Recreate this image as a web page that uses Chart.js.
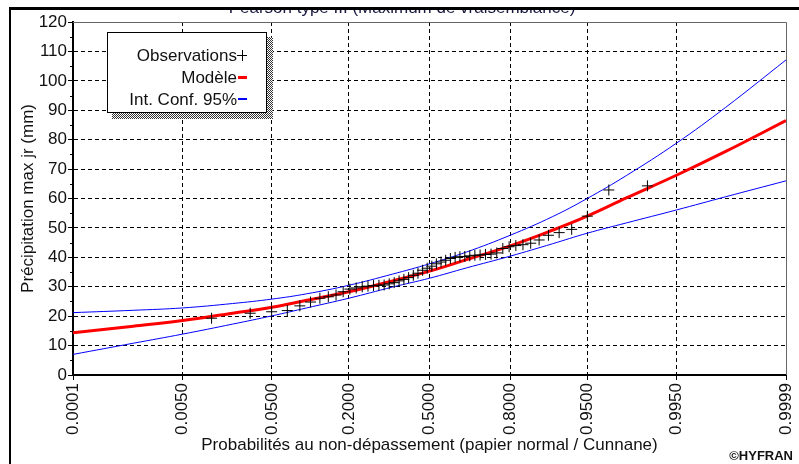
<!DOCTYPE html>
<html>
<head>
<meta charset="utf-8">
<script src="https://cdn.jsdelivr.net/npm/chart.js@4.4.1/dist/chart.umd.min.js"></script>
<style>
  html, body { margin: 0; padding: 0; background: #fff; }
  canvas { display: block; }
</style>
</head>
<body>
<canvas id="c" width="799" height="464"></canvas>
<script>
// Labelled non-exceedance probabilities on the normal-probability axis
const probTicks = [0.0001, 0.005, 0.05, 0.2, 0.5, 0.8, 0.95, 0.995, 0.9999];

// Fitted Pearson III quantiles and 95% confidence band
const curveProbs = [0.0001, 0.001, 0.005, 0.02, 0.05, 0.1, 0.2, 0.35, 0.5, 0.65, 0.8, 0.9, 0.95, 0.98, 0.995, 0.999, 0.9999];
const modelValues = [14.4, 16.6, 18.5, 21.0, 23.0, 25.4, 28.3, 32.0, 35.3, 39.2, 43.9, 49.2, 54.0, 60.2, 67.9, 76.0, 86.5];
const ciUpper     = [21.2, 22.0, 22.8, 24.3, 25.8, 27.6, 30.5, 34.3, 37.8, 41.8, 47.5, 53.8, 60.0, 67.8, 78.8, 91.0, 107.1];
const ciLower     = [7.0, 10.8, 13.9, 17.3, 20.1, 22.8, 26.1, 29.9, 32.9, 36.4, 40.4, 44.6, 48.2, 51.7, 56.1, 60.6, 66.0];

// Observed annual maxima with their Cunnane plotting positions
const obsProbs = [0.0115, 0.0307, 0.0498, 0.0690, 0.0881, 0.1073, 0.1264, 0.1456, 0.1648, 0.1839,
                  0.2031, 0.2222, 0.2414, 0.2605, 0.2797, 0.2989, 0.3180, 0.3372, 0.3563, 0.3755,
                  0.3946, 0.4138, 0.4330, 0.4521, 0.4713, 0.4904, 0.5096, 0.5287, 0.5479, 0.5670,
                  0.5862, 0.6054, 0.6245, 0.6437, 0.6628, 0.6820, 0.7011, 0.7203, 0.7395, 0.7586,
                  0.7778, 0.7969, 0.8161, 0.8352, 0.8544, 0.8736, 0.8927, 0.9119, 0.9310, 0.9502,
                  0.9693, 0.9885];
const obsValues = [19.3, 21.0, 21.5, 21.9, 23.5, 24.8, 26.1, 26.6, 27.2, 28.3,
                   29.2, 29.6, 30.0, 30.2, 30.4, 30.5, 30.6, 31.0, 31.4, 32.0,
                   32.5, 33.1, 33.9, 34.6, 35.6, 36.3, 37.0, 37.8, 38.4, 39.0,
                   39.6, 40.0, 40.2, 40.3, 40.5, 40.7, 40.8, 41.0, 41.1, 41.5,
                   43.0, 43.6, 44.0, 44.3, 44.8, 45.9, 47.5, 48.4, 49.5, 54.0,
                   62.9, 64.3];

const FONT = "'Liberation Sans', Arial, sans-serif";
const TEXT = '#111';

// Inverse of the standard normal CDF (Acklam)
function probit(p) {
  const a = [-3.969683028665376e+01, 2.209460984245205e+02, -2.759285104469687e+02, 1.383577518672690e+02, -3.066479806614716e+01, 2.506628277459239e+00];
  const b = [-5.447609879822406e+01, 1.615858368580409e+02, -1.556989798598866e+02, 6.680131188771972e+01, -1.328068155288572e+01];
  const c = [-7.784894002430293e-03, -3.223964580411365e-01, -2.400758277161838e+00, -2.549732539343734e+00, 4.374664141464968e+00, 2.938163982698783e+00];
  const d = [7.784695709041462e-03, 3.224671290700398e-01, 2.445134137142996e+00, 3.754408661907416e+00];
  const pl = 0.02425;
  let q, r;
  if (p < pl) {
    q = Math.sqrt(-2 * Math.log(p));
    return (((((c[0]*q+c[1])*q+c[2])*q+c[3])*q+c[4])*q+c[5]) / ((((d[0]*q+d[1])*q+d[2])*q+d[3])*q+1);
  }
  if (p > 1 - pl) {
    q = Math.sqrt(-2 * Math.log(1 - p));
    return -(((((c[0]*q+c[1])*q+c[2])*q+c[3])*q+c[4])*q+c[5]) / ((((d[0]*q+d[1])*q+d[2])*q+d[3])*q+1);
  }
  q = p - 0.5; r = q * q;
  return (((((a[0]*r+a[1])*r+a[2])*r+a[3])*r+a[4])*r+a[5])*q / (((((b[0]*r+b[1])*r+b[2])*r+b[3])*r+b[4])*r+1);
}

function normCdf(z) {
  const t = 1 / (1 + 0.3275911 * Math.abs(z) / Math.SQRT2);
  const y = 1 - (((((1.061405429*t - 1.453152027)*t) + 1.421413741)*t - 0.284496736)*t + 0.254829592)*t * Math.exp(-z*z/2);
  return z >= 0 ? 0.5 * (1 + y) : 0.5 * (1 - y);
}

// Normal probability paper: positions are linear in the standard normal quantile
class ProbitScale extends Chart.Scale {
  determineDataLimits() {
    this.min = this.options.min;
    this.max = this.options.max;
  }
  buildTicks() {
    return probTicks.map(v => ({ value: v }));
  }
  configure() {
    super.configure();
    this._zLo = probit(this.min);
    this._zHi = probit(this.max);
  }
  getLabelForValue(v) { return v.toFixed(4); }
  getPixelForValue(v) {
    return this.getPixelForDecimal((probit(v) - this._zLo) / (this._zHi - this._zLo));
  }
  getValueForPixel(px) {
    return normCdf(this._zLo + this.getDecimalForPixel(px) * (this._zHi - this._zLo));
  }
  getPixelForTick(i) { return this.getPixelForValue(this.ticks[i].value); }
}
ProbitScale.id = 'probit';
ProbitScale.defaults = {};
Chart.register(ProbitScale);

const pairs = (xs, ys) => xs.map((x, i) => ({ x: x, y: ys[i] }));

// Frame, title, legend box, minor ticks and credit line
let shadowPattern = null;
const decor = {
  id: 'decor',
  beforeDraw(chart) {
    const ctx = chart.ctx;
    ctx.save();
    ctx.fillStyle = '#fff';
    ctx.fillRect(0, 0, chart.width, chart.height);
    ctx.restore();
  },
  beforeDatasetsDraw(chart) {
    const ctx = chart.ctx, a = chart.chartArea;
    ctx.save();
    ctx.strokeStyle = '#666';
    ctx.lineWidth = 1;
    ctx.beginPath();
    ctx.moveTo(a.left, Math.round(a.top) + 0.5);
    ctx.lineTo(Math.round(a.right) + 0.5, Math.round(a.top) + 0.5);
    ctx.lineTo(Math.round(a.right) + 0.5, a.bottom);
    ctx.stroke();
    ctx.restore();
  },
  afterDraw(chart) {
    const ctx = chart.ctx, a = chart.chartArea, ys = chart.scales.y;
    ctx.save();

    // minor ticks on the value axis
    ctx.strokeStyle = '#000';
    ctx.lineWidth = 1;
    ctx.beginPath();
    for (let v = 5; v < 120; v += 10) {
      const py = Math.round(ys.getPixelForValue(v)) + 0.5;
      ctx.moveTo(a.left - 3, py);
      ctx.lineTo(a.left, py);
    }
    ctx.stroke();

    // outer frame
    ctx.fillStyle = '#000';
    ctx.fillRect(9, 7, chart.width - 9, 3);
    ctx.fillRect(9, 7, 2, chart.height - 7);

    // chart title, cut by the frame
    ctx.save();
    ctx.beginPath();
    ctx.rect(11, 10, chart.width - 11, 20);
    ctx.clip();
    ctx.font = '17px ' + FONT;
    ctx.fillStyle = '#1a1a40';
    ctx.textAlign = 'center';
    ctx.textBaseline = 'alphabetic';
    ctx.fillText('Pearson type III (Maximum de vraisemblance)', 402, 13);
    ctx.restore();

    // legend with hatched shadow
    if (!shadowPattern) {
      const pc = document.createElement('canvas');
      pc.width = 2; pc.height = 2;
      const pctx = pc.getContext('2d');
      pctx.fillStyle = '#fff'; pctx.fillRect(0, 0, 2, 2);
      pctx.fillStyle = '#333'; pctx.fillRect(0, 0, 1, 1); pctx.fillRect(1, 1, 1, 1);
      shadowPattern = ctx.createPattern(pc, 'repeat');
    }
    ctx.fillStyle = shadowPattern;
    ctx.fillRect(112, 37, 161, 82);
    ctx.fillStyle = '#fff';
    ctx.fillRect(107, 32, 160, 81);
    ctx.strokeStyle = '#000';
    ctx.lineWidth = 1;
    ctx.strokeRect(107.5, 32.5, 159, 80);

    ctx.font = '17px ' + FONT;
    ctx.fillStyle = TEXT;
    ctx.textAlign = 'right';
    ctx.textBaseline = 'alphabetic';
    ctx.fillText('Observations', 237, 61);
    ctx.fillText('Modèle', 237, 83);
    ctx.fillText('Int. Conf. 95%', 237, 104.5);
    ctx.strokeStyle = '#000';
    ctx.beginPath();
    ctx.moveTo(237, 55.5); ctx.lineTo(247, 55.5);
    ctx.moveTo(242.5, 50); ctx.lineTo(242.5, 61);
    ctx.stroke();
    ctx.fillStyle = '#ff0000';
    ctx.fillRect(238, 76, 9, 3);
    ctx.fillStyle = '#0000ff';
    ctx.fillRect(238, 98, 9, 2);

    // credit
    ctx.font = 'bold 13px ' + FONT;
    ctx.fillStyle = TEXT;
    ctx.textAlign = 'right';
    ctx.fillText('\u00A9HYFRAN', 793, 460);
    ctx.restore();
  }
};

const edgeTransparent = (lo, hi) => (ctx) =>
  (ctx.tick && (ctx.tick.value === lo || ctx.tick.value === hi)) ? 'rgba(0,0,0,0)' : '#000';

new Chart(document.getElementById('c'), {
  type: 'scatter',
  data: {
    datasets: [
      {
        label: 'Observations',
        data: pairs(obsProbs, obsValues),
        showLine: false,
        pointStyle: 'cross',
        pointRadius: 5.5,
        pointBorderColor: '#000',
        pointBorderWidth: 1,
        pointBackgroundColor: '#000'
      },
      {
        label: 'Modèle',
        data: pairs(curveProbs, modelValues),
        showLine: true,
        borderColor: '#ff0000',
        borderWidth: 3,
        pointRadius: 0,
        tension: 0.4
      },
      {
        label: 'Int. Conf. 95% sup',
        data: pairs(curveProbs, ciUpper),
        showLine: true,
        borderColor: '#0000ff',
        borderWidth: 1,
        pointRadius: 0,
        tension: 0.4
      },
      {
        label: 'Int. Conf. 95% inf',
        data: pairs(curveProbs, ciLower),
        showLine: true,
        borderColor: '#0000ff',
        borderWidth: 1,
        pointRadius: 0,
        tension: 0.4
      }
    ]
  },
  options: {
    responsive: false,
    animation: false,
    events: [],
    layout: { padding: { left: 0, top: 22, right: 13, bottom: 0 } },
    font: { family: FONT },
    plugins: { legend: { display: false }, tooltip: { enabled: false } },
    scales: {
      x: {
        type: 'probit',
        position: 'bottom',
        min: 0.0001,
        max: 0.9999,
        afterFit: (s) => { s.height = 89; s.paddingLeft = 0; s.paddingRight = 0; },
        ticks: {
          autoSkip: false,
          minRotation: 90,
          maxRotation: 90,
          padding: 3,
          color: TEXT,
          font: { family: FONT, size: 17 },
          callback: (v) => v.toFixed(4)
        },
        grid: {
          color: edgeTransparent(0.0001, 0.9999),
          lineWidth: 1,
          tickLength: 5,
          tickColor: '#000',
          tickWidth: 1,
          tickBorderDash: []
        },
        border: { color: '#000', width: 2, dash: [4, 3] },
        title: {
          display: true,
          text: 'Probabilités au non-dépassement (papier normal / Cunnane)',
          color: TEXT,
          font: { family: FONT, size: 17 },
          padding: { top: 0, bottom: 8 }
        }
      },
      y: {
        type: 'linear',
        min: 0,
        max: 120,
        afterFit: (s) => { s.width = 73; },
        ticks: {
          stepSize: 10,
          padding: 1,
          color: TEXT,
          font: { family: FONT, size: 17 }
        },
        grid: {
          color: edgeTransparent(0, 120),
          lineWidth: 1,
          tickLength: 5,
          tickColor: '#000',
          tickWidth: 1,
          tickBorderDash: []
        },
        border: { color: '#000', width: 2, dash: [4, 3] },
        title: {
          display: true,
          text: 'Précipitation max jr (mm)',
          color: TEXT,
          font: { family: FONT, size: 17 },
          padding: { top: 18.4, bottom: 0 }
        }
      }
    }
  },
  plugins: [decor]
});
</script>
</body>
</html>
